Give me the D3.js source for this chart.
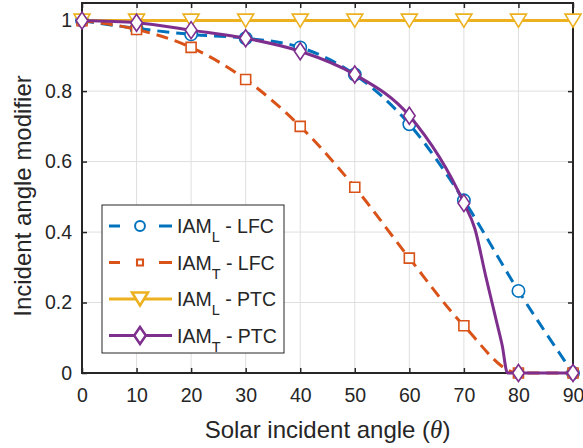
<!DOCTYPE html>
<html lang="en">
<head>
    <meta charset="UTF-8">
    <title>Incident angle modifier</title>
    <script src="https://cdn.jsdelivr.net/npm/d3@7"></script>
    <style>
        body {margin: 0; background: #fff;}
        svg text {font-family: "Liberation Sans", Arial, sans-serif; fill: #262626;}
    </style>
</head>
<body>
<div id="graf"></div>
<script>
    // podatki odcitani s slike
    const angles = [0, 10, 20, 30, 40, 50, 60, 70, 80, 90];
    const iamL_LFC = [1, 0.978, 0.961, 0.950, 0.924, 0.847, 0.706, 0.490, 0.233, 0];
    const iamT_LFC = [1, 0.975, 0.924, 0.833, 0.700, 0.527, 0.326, 0.134, 0, 0];
    const iamL_PTC = [1, 1, 1, 1, 1, 1, 1, 1, 1, 1];
    const iamT_PTC = [1, 0.994, 0.973, 0.950, 0.913, 0.847, 0.730, 0.482, 0, 0];
    // strm padec krivulje IAM_T - PTC med 70 in 80 stopinj
    const dropAngles = [72, 74, 76, 77, 78];
    const dropValues = [0.41, 0.275, 0.145, 0.08, 0];
    const xTicks = [0, 10, 20, 30, 40, 50, 60, 70, 80, 90];
    const yTicks = [0, 0.2, 0.4, 0.6, 0.8, 1];

    let margin = {top: 3, right: 10, bottom: 75, left: 82},
        width = 583 - margin.left - margin.right,
        height = 448 - margin.top - margin.bottom;

    let svg = d3.select("#graf")
        .append("svg")
        .attr("width", 583)
        .attr("height", 448)
        .append("g")
        .attr("transform", "translate(" + margin.left + "," + margin.top + ")");

    let x = d3.scaleLinear().domain([0, 90]).range([0, width]);
    let y = d3.scaleLinear().domain([0, 1.05]).range([height, 0]);

    // mreza
    svg.append("g").selectAll("line").data(xTicks).join("line")
        .attr("x1", d => x(d)).attr("x2", d => x(d))
        .attr("y1", 0).attr("y2", height)
        .attr("stroke", "#dfdfdf").attr("stroke-width", 1);
    svg.append("g").selectAll("line").data(yTicks).join("line")
        .attr("x1", 0).attr("x2", width)
        .attr("y1", d => y(d)).attr("y2", d => y(d))
        .attr("stroke", "#dfdfdf").attr("stroke-width", 1);

    // osi
    svg.append("g")
        .attr("transform", "translate(0," + height + ")")
        .call(d3.axisBottom(x).tickValues(xTicks).tickSizeInner(-5).tickSizeOuter(0).tickPadding(15));
    svg.append("g")
        .call(d3.axisLeft(y).tickValues(yTicks).tickFormat(d3.format("~g")).tickSizeInner(-5).tickSizeOuter(0).tickPadding(10));
    svg.append("g")
        .call(d3.axisTop(x).tickValues(xTicks).tickSizeInner(-5).tickSizeOuter(0).tickFormat(""));
    svg.append("g")
        .attr("transform", "translate(" + width + ",0)")
        .call(d3.axisRight(y).tickValues(yTicks).tickSizeInner(-5).tickSizeOuter(0).tickFormat(""));
    svg.selectAll(".domain").remove();
    svg.selectAll(".tick line").attr("stroke", "#262626").attr("stroke-width", 1.5);
    svg.selectAll(".tick text").attr("font-size", "19.5px").attr("fill", "#262626");
    svg.append("rect")
        .attr("width", width).attr("height", height)
        .attr("fill", "none").attr("stroke", "#262626").attr("stroke-width", 2);

    // serije
    let series = [
        {name: "L", sys: "LFC", xs: angles, ys: iamL_LFC, color: "#0072BD", dash: "12,7", marker: "circle"},
        {name: "T", sys: "LFC", xs: angles, ys: iamT_LFC, color: "#D95319", dash: "12,7", marker: "square"},
        {name: "L", sys: "PTC", xs: angles, ys: iamL_PTC, color: "#EDB120", dash: null, marker: "triangle"},
        {name: "T", sys: "PTC", xs: angles.slice(0, 8).concat(dropAngles, angles.slice(8)),
            ys: iamT_PTC.slice(0, 8).concat(dropValues, iamT_PTC.slice(8)), color: "#7E2F8E", dash: null, marker: "diamond"}
    ];

    function markerPath(type) {
        if (type === "circle") return d3.symbol(d3.symbolCircle, 120)();
        if (type === "square") return "M-5,-5H5V5H-5Z";
        if (type === "triangle") return "M-8,-6.5H8L0,6.5Z";
        return "M0,-8.5L5.8,0L0,8.5L-5.8,0Z";
    }

    let line = d3.line()
        .x(d => x(d[0]))
        .y(d => y(d[1]))
        .curve(d3.curveMonotoneX);

    series.forEach(function (s) {
        let pts = s.xs.map((a, i) => [a, s.ys[i]]);
        svg.append("path")
            .datum(pts)
            .attr("fill", "none")
            .attr("stroke", s.color)
            .attr("stroke-width", 3)
            .attr("stroke-dasharray", s.dash)
            .attr("d", line);
        svg.append("g").selectAll("path")
            .data(pts.filter(p => angles.indexOf(p[0]) >= 0))
            .join("path")
            .attr("transform", d => "translate(" + x(d[0]) + "," + y(d[1]) + ")")
            .attr("d", markerPath(s.marker))
            .attr("fill", "#fff")
            .attr("stroke", s.color)
            .attr("stroke-width", 1.6);
    });

    // legenda
    let legend = svg.append("g").attr("transform", "translate(20,202)");
    legend.append("rect")
        .attr("width", 182).attr("height", 148)
        .attr("fill", "#fff").attr("stroke", "#262626").attr("stroke-width", 1);
    series.forEach(function (s, i) {
        let row = legend.append("g").attr("transform", "translate(0," + (21 + i * 36.5) + ")");
        if (s.dash) {
            row.append("line").attr("x1", 7).attr("x2", 18).attr("y1", 0).attr("y2", 0)
                .attr("stroke", s.color).attr("stroke-width", 3);
            row.append("line").attr("x1", 57).attr("x2", 70).attr("y1", 0).attr("y2", 0)
                .attr("stroke", s.color).attr("stroke-width", 3);
        } else {
            row.append("line").attr("x1", 7).attr("x2", 70).attr("y1", 0).attr("y2", 0)
                .attr("stroke", s.color).attr("stroke-width", 3);
        }
        row.append("path")
            .attr("transform", "translate(38,0)" + (s.marker === "square" ? " scale(0.6)" : "") + (s.marker === "circle" ? " scale(0.8)" : ""))
            .attr("d", markerPath(s.marker))
            .attr("fill", "#fff")
            .attr("stroke", s.color)
            .attr("stroke-width", s.marker === "square" ? 3.5 : 2.5);
        let t = row.append("text")
            .attr("x", 75).attr("y", 7)
            .attr("font-size", "19.5px");
        t.append("tspan").text("IAM");
        t.append("tspan").attr("font-size", "14.5px").attr("dy", 9).text(s.name);
        t.append("tspan").attr("dy", -9).text(" - " + s.sys);
    });

    // naslovi osi
    let xl = svg.append("text")
        .attr("x", width / 2).attr("y", height + 65)
        .attr("text-anchor", "middle")
        .attr("font-size", "24px");
    xl.append("tspan").text("Solar incident angle (");
    xl.append("tspan").attr("font-family", "Liberation Serif, serif").attr("font-style", "italic").attr("font-size", "25px").text("θ");
    xl.append("tspan").text(")");

    svg.append("text")
        .attr("transform", "translate(-51," + (height / 2 + 8) + ") rotate(-90)")
        .attr("text-anchor", "middle")
        .attr("font-size", "24px")
        .text("Incident angle modifier");
</script>
</body>
</html>
